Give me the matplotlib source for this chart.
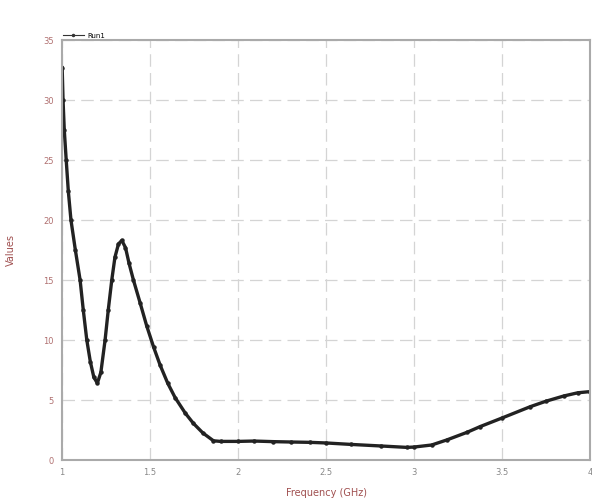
import matplotlib.pyplot as plt
from matplotlib.lines import Line2D

# values
freq = [1.0, 1.005, 1.012, 1.023, 1.035, 1.05, 1.075, 1.102, 1.12, 1.14, 1.16,
        1.18, 1.20, 1.22, 1.244, 1.262, 1.282, 1.30, 1.32, 1.339, 1.36, 1.38,
        1.405, 1.443, 1.48, 1.52, 1.557, 1.60, 1.642, 1.70, 1.746, 1.80, 1.86,
        1.90, 2.0, 2.09, 2.2, 2.3, 2.41, 2.5, 2.64, 2.81, 2.96, 3.0, 3.1,
        3.186, 3.3, 3.375, 3.5, 3.66, 3.75, 3.85, 3.93, 4.0]
run1 = [32.7, 30.0, 27.5, 25.0, 22.4, 20.0, 17.5, 15.0, 12.5, 10.0, 8.2,
        6.9, 6.4, 7.3, 10.0, 12.5, 15.0, 16.9, 18.0, 18.3, 17.7, 16.4,
        15.0, 13.1, 11.2, 9.4, 7.9, 6.4, 5.2, 3.9, 3.05, 2.25, 1.6,
        1.55, 1.55, 1.58, 1.53, 1.5, 1.47, 1.42, 1.3, 1.17, 1.05, 1.08, 1.25,
        1.67, 2.3, 2.78, 3.5, 4.44, 4.9, 5.33, 5.6, 5.7]

xticks = [1, 1.5, 2, 2.5, 3, 3.5, 4]
xticklabels = ['1', '1.5', '2', '2.5', '3', '3.5', '4']
yticks = [0, 5, 10, 15, 20, 25, 30, 35]

fig = plt.figure(figsize=(5.92, 5.04), dpi=100)
ax = fig.add_axes([0.105, 0.0873, 0.8916, 0.8333])

ax.plot(freq, run1, color='#222222', lw=2.4, marker='o', markersize=2.2,
        label='Run1')

ax.set_xlim(1, 4)
ax.set_ylim(0, 35)
ax.set_xticks(xticks)
ax.set_xticklabels(xticklabels)
ax.set_yticks(yticks)
ax.tick_params(length=0, labelsize=6, pad=6)
for t in ax.get_xticklabels():
    t.set_color('#888888')
for t in ax.get_yticklabels():
    t.set_color('#b07070')

ax.grid(True, color='#d4d4d4', linestyle=(0, (10, 5)), linewidth=0.9)
for s in ax.spines.values():
    s.set_color('#aaaaaa')
    s.set_linewidth(1.5)

ax.set_xlabel('Frequency (GHz)', fontsize=7, color='#a05050', labelpad=8)
ax.set_ylabel('Values', fontsize=7, color='#a05050', labelpad=20)

handle = Line2D([], [], color='#333333', lw=0.8, marker='.', markersize=3)
ax.legend(handles=[handle], labels=['Run1'], loc='lower left',
          bbox_to_anchor=(-0.005, 0.995), frameon=False, fontsize=5,
          handlelength=3, borderpad=0, handletextpad=0.5)

fig.savefig('out.png', dpi=100)
